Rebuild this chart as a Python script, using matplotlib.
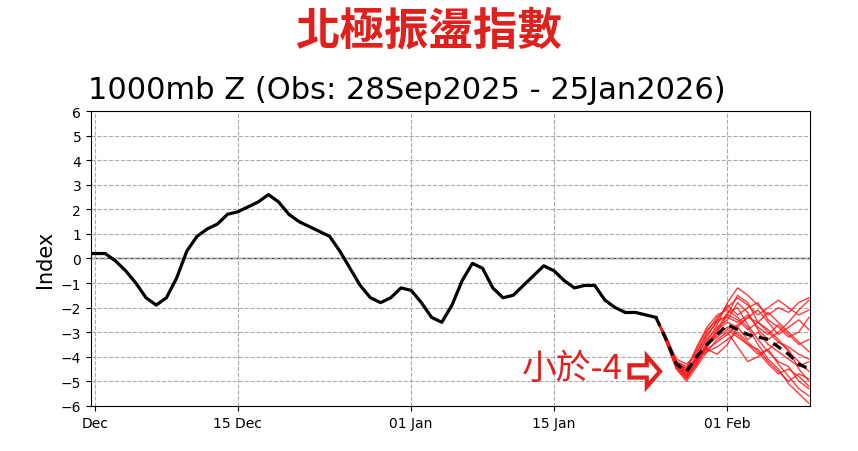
import matplotlib
matplotlib.use("Agg")
import matplotlib.pyplot as plt
from matplotlib.patches import FancyArrow

plt.rcParams['font.family'] = ['DejaVu Sans', 'Noto Sans CJK TC']

title = "北極振盪指數"
subtitle = "1000mb Z (Obs: 28Sep2025 - 25Jan2026)"
tick_pos = [0, 14, 31, 45, 62]
tick_labels = ["Dec", "15 Dec", "01 Jan", "15 Jan", "01 Feb"]

obs_days = list(range(-1, 56))
obs_vals = [0.2, 0.2, 0.2, -0.1, -0.5, -1.0, -1.6, -1.9, -1.6, -0.8, 0.3, 0.9, 1.2, 1.4, 1.8,
            1.9, 2.1, 2.3, 2.6, 2.3, 1.8, 1.5, 1.3, 1.1, 0.9, 0.3, -0.4, -1.1, -1.6, -1.8,
            -1.6, -1.2, -1.3, -1.8, -2.4, -2.6, -1.9, -0.9, -0.2, -0.4, -1.2, -1.6, -1.5,
            -1.1, -0.7, -0.3, -0.5, -0.9, -1.2, -1.1, -1.1, -1.7, -2.0, -2.2, -2.2, -2.3, -2.4]

fc_days = list(range(55, 71))
fc_mean = [-2.4, -3.3, -4.3, -4.6, -4.0, -3.5, -3.1, -2.7, -2.9, -3.1, -3.2, -3.3, -3.6, -3.9, -4.3, -4.5]

members = [
    [-2.4, -3.4, -4.4, -4.9, -4.2, -3.4, -2.7, -1.8, -1.2, -1.5, -1.9, -2.3, -2.0, -2.2, -1.8, -1.6],
    [-2.4, -3.3, -4.3, -4.7, -4.1, -3.6, -3.0, -2.3, -1.5, -1.8, -2.6, -3.0, -3.4, -3.7, -4.5, -5.0],
    [-2.4, -3.2, -4.2, -4.5, -3.6, -2.8, -2.3, -2.1, -2.4, -2.8, -3.5, -4.1, -4.5, -5.1, -5.5, -5.9],
    [-2.4, -3.3, -4.4, -4.8, -4.0, -3.2, -2.5, -1.9, -2.3, -2.0, -1.8, -2.5, -2.8, -3.2, -3.0, -2.4],
    [-2.4, -3.4, -4.5, -5.0, -4.4, -3.8, -3.3, -3.0, -3.6, -4.2, -4.0, -3.7, -4.3, -4.8, -5.3, -5.6],
    [-2.4, -3.2, -4.1, -4.3, -3.9, -3.7, -3.9, -3.5, -2.8, -2.4, -2.6, -2.2, -2.6, -3.0, -3.4, -3.8],
    [-2.4, -3.3, -4.3, -4.6, -4.0, -3.3, -2.8, -2.5, -1.8, -2.2, -2.9, -3.3, -3.0, -2.6, -2.1, -1.7],
    [-2.4, -3.4, -4.4, -4.8, -4.3, -3.6, -3.1, -2.8, -3.1, -3.5, -3.7, -4.2, -4.6, -5.0, -4.7, -4.9],
    [-2.4, -3.3, -4.2, -4.4, -3.8, -3.1, -2.6, -2.3, -2.5, -2.9, -2.6, -2.9, -3.3, -3.8, -4.2, -4.6],
    [-2.4, -3.3, -4.3, -4.7, -4.1, -3.5, -3.2, -2.9, -3.2, -3.5, -3.9, -3.7, -3.4, -3.6, -3.9, -4.1],
    [-2.4, -3.4, -4.5, -4.9, -4.3, -3.6, -2.9, -2.2, -2.0, -2.7, -3.3, -3.8, -4.2, -4.4, -5.0, -5.3],
    [-2.4, -3.2, -4.2, -4.6, -4.1, -3.7, -3.4, -3.1, -2.7, -2.4, -2.1, -2.6, -3.1, -2.8, -2.5, -2.9],
    [-2.4, -3.3, -4.3, -4.8, -4.2, -3.5, -2.9, -2.6, -2.8, -3.3, -3.0, -3.5, -3.8, -4.1, -4.4, -4.2],
    [-2.4, -3.3, -4.4, -4.7, -3.9, -3.0, -2.4, -2.0, -1.6, -1.9, -2.3, -2.0, -1.7, -2.0, -2.3, -2.1],
    [-2.4, -3.4, -4.3, -4.6, -4.1, -3.8, -3.6, -3.3, -3.0, -3.4, -3.8, -4.3, -4.7, -4.5, -4.8, -5.2],
    [-2.4, -3.2, -4.2, -4.5, -3.7, -2.9, -2.5, -2.4, -2.6, -2.3, -2.8, -3.1, -2.7, -3.1, -3.5, -3.3],
]

fig = plt.figure(figsize=(8.58, 4.52), dpi=100)
ax = fig.add_axes([0.106, 0.1, 0.838, 0.652])

for m in members:
    ax.plot(fc_days, m, color='#ff1a1a', lw=1.0, alpha=0.85, zorder=2)
ax.plot(obs_days, obs_vals, color='black', lw=2.3, zorder=3)
ax.plot(fc_days, fc_mean, color='black', lw=2.3, ls=(0, (3, 2)), zorder=4)
ax.axhline(0, color='#333333', lw=1, zorder=1)

ax.set_xlim(-0.4, 70.1)
ax.set_ylim(-6, 6)
ax.set_yticks(range(-6, 7))
ax.set_xticks(tick_pos)
ax.set_xticklabels(tick_labels, fontsize=10)
ax.tick_params(axis='y', labelsize=10)
ax.grid(True, ls='--', color='#aaaaaa', lw=0.8)
ax.set_ylabel("Index", fontsize=15)

fig.text(0.5, 0.93, title, color='#e0201c', fontsize=32, fontweight='bold',
         ha='center', va='center', family=['Noto Sans CJK TC', 'DejaVu Sans'])
fig.text(0.103, 0.80, subtitle, fontsize=22, ha='left', va='center')

ax.text(51.8, -4.5, "小於-4", color='#e0201c', fontsize=25, fontweight='medium',
        ha='right', va='center', family=['Noto Sans CJK TC', 'DejaVu Sans'])
ax.add_patch(FancyArrow(52.4, -4.6, 3.0, 0, width=0.5, head_width=1.25, head_length=1.3,
                        length_includes_head=True, facecolor='white', edgecolor='#e0201c',
                        lw=3, zorder=5))

fig.savefig("out.png", dpi=100)
